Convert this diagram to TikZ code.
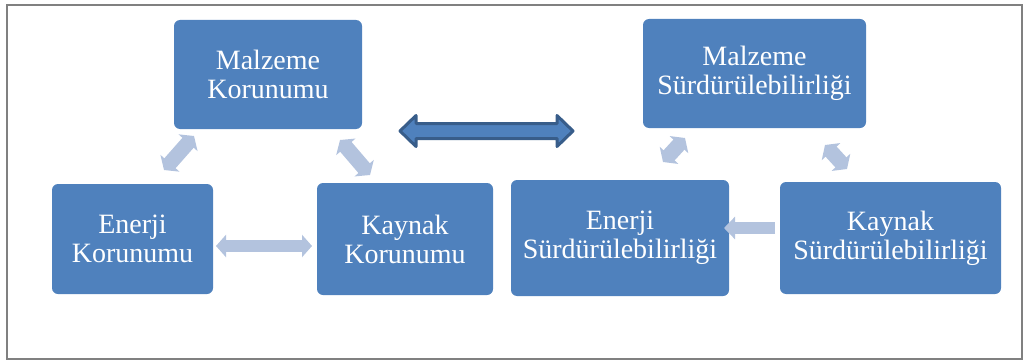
\documentclass[tikz,border=0pt]{standalone}
\usepackage{fontspec}
\setmainfont{Liberation Serif}
\usetikzlibrary{arrows.meta,calc}
\definecolor{boxblue}{RGB}{79,129,189}
\definecolor{darkblue}{RGB}{56,93,138}
\definecolor{lightblue}{RGB}{179,195,222}
\definecolor{framegray}{RGB}{128,128,128}
\begin{document}
\begin{tikzpicture}[x=1pt,y=-1pt,
  box/.style={rectangle, rounded corners=6pt, fill=boxblue, text=white, align=center,
    font=\fontsize{28}{29}\selectfont, inner sep=0pt},
  link/.style={line width=12pt, draw=lightblue},
  dbl/.style={link, {Triangle[width=22pt,length=10pt]}-{Triangle[width=22pt,length=10pt]}},
  diag/.style={link, line width=15pt, {Triangle[width=25pt,length=9pt]}-{Triangle[width=25pt,length=9pt]}},
  sgl/.style={link, -{Triangle[width=22pt,length=11pt]}},
  bigarrow/.style={fill=boxblue, draw=darkblue, line width=3pt, line join=round}
]
\useasboundingbox (0,0) rectangle (1027,361);
\draw[framegray, line width=1.5pt] (7,5) rectangle (1022,359);

% left group
\node[box, minimum width=188pt, minimum height=109pt] (mk) at (268,74.5) {Malzeme\\Korunumu};
\node[box, minimum width=161pt, minimum height=110pt] (ek) at (132.5,239) {Enerji\\Korunumu};
\node[box, minimum width=176pt, minimum height=112pt] (kk) at (405,239) {Kaynak\\Korunumu};

% right group
\node[box, minimum width=223pt, minimum height=109pt] (ms) at (754.5,73.5) {Malzeme\\Sürdürülebilirliği};
\node[box, minimum width=218pt, minimum height=116pt] (es) at (620,238) {Enerji\\Sürdürülebilirliği};
\node[box, minimum width=221pt, minimum height=112pt] (ks) at (890.5,238) {Kaynak\\Sürdürülebilirliği};

% connector end points
\coordinate (a1) at (164,170); \coordinate (a2) at (194,136);
\coordinate (b1) at (340,140); \coordinate (b2) at (370,175);
\coordinate (c1) at (216,246); \coordinate (c2) at (312,246);
\coordinate (d1) at (663,162); \coordinate (d2) at (685,138);
\coordinate (e1) at (825,145); \coordinate (e2) at (847,169);
\coordinate (f1) at (775,228); \coordinate (f2) at (724,228);

\draw[diag] (a1) -- (a2);
\draw[diag] (b1) -- (b2);
\draw[dbl] (c1) -- (c2);
\draw[diag] (d1) -- (d2);
\draw[diag] (e1) -- (e2);
\draw[sgl] (f1) -- (f2);

% big double arrow between the groups
\coordinate (gl) at (400,131);
\coordinate (gr) at (573,131);
\draw[bigarrow] (gl) -- ++(16,-15.5) -- ++(0,8) -- ($(gr)+(-16,-7.5)$) -- ++(0,-8) -- (gr)
  -- ++(-16,15.5) -- ++(0,-8) -- ($(gl)+(16,7.5)$) -- ++(0,8) -- cycle;
\end{tikzpicture}
\end{document}
